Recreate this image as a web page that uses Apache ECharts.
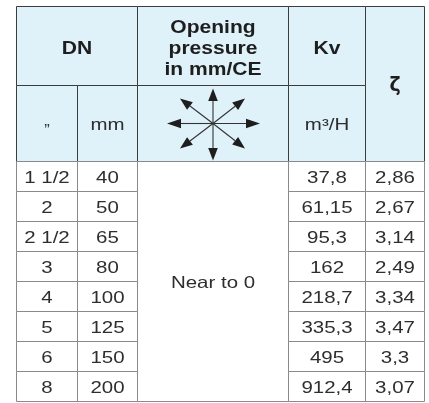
<!DOCTYPE html>
<html>
<head>
<meta charset="utf-8">
<script src="https://cdn.jsdelivr.net/npm/echarts@6/dist/echarts.min.js"></script>
<style>
html,body{margin:0;padding:0;background:#fff;}
#chart{width:429px;height:403px;}
</style>
</head>
<body>
<div id="chart"></div>
<script>
// ---- data ----
const headerTop = ['DN', 'Opening\npressure\nin mm/CE', 'Kv', 'ζ'];
const headerSub = ['”', 'mm', '', 'm³/H'];
const dnInch = ['1 1/2', '2', '2 1/2', '3', '4', '5', '6', '8'];
const dnMm = [40, 50, 65, 80, 100, 125, 150, 200];
const openingPressure = 'Near to 0';
const kv = [37.8, 61.15, 95.3, 162, 218.7, 335.3, 495, 912.4];
const zeta = [2.86, 2.67, 3.14, 2.49, 3.34, 3.47, 3.3, 3.07];

// ---- layout (table units = px) ----
const colEdges = [0, 61, 121, 272, 349, 408];
const headRows = [0, 79, 155];
const rowH = 30;
const tableH = headRows[2] + rowH * dnInch.length;

const fmt = v => String(v).replace('.', ',');

const cells = [];
function cell(c0, c1, r0, r1, text, kind) {
  cells.push({x0: colEdges[c0], x1: colEdges[c1], y0: r0, y1: r1, text, kind});
}
// header
cell(0, 2, headRows[0], headRows[1], headerTop[0], 'head');
cell(2, 3, headRows[0], headRows[1], headerTop[1], 'head');
cell(3, 4, headRows[0], headRows[1], headerTop[2], 'head');
cell(4, 5, headRows[0], headRows[2], headerTop[3], 'headz');
cell(0, 1, headRows[1], headRows[2], headerSub[0], 'inch');
cell(1, 2, headRows[1], headRows[2], headerSub[1], 'sub');
cell(2, 3, headRows[1], headRows[2], headerSub[2], 'arrows');
cell(3, 4, headRows[1], headRows[2], headerSub[3], 'sub');
// merged column
cell(2, 3, headRows[2], tableH, openingPressure, 'merged');
// body
dnInch.forEach((d, i) => {
  const y0 = headRows[2] + i * rowH, y1 = y0 + rowH;
  cell(0, 1, y0, y1, d, 'body');
  cell(1, 2, y0, y1, String(dnMm[i]), 'body');
  cell(3, 4, y0, y1, fmt(kv[i]), 'body');
  cell(4, 5, y0, y1, fmt(zeta[i]), 'body');
});

const HEAD_BG = '#dff2fa';
const INK = '#1e1e1e';
const BODY_INK = '#2e2e2e';

function arrowGroup(cx, cy) {
  const dirs = [[0, -35], [0, 37], [-46, 0], [47, 0], [-33, -25], [32, -25], [-33, 25], [32, 25]];
  const children = [];
  dirs.forEach(([dx, dy]) => {
    const len = Math.sqrt(dx * dx + dy * dy);
    const ux = dx / len, uy = dy / len;
    const hl = dx !== 0 && dy === 0 ? 14 : 12.5, hw = 4.8;
    const tx = cx + dx, ty = cy + dy;
    const bx = tx - ux * hl, by = ty - uy * hl;
    children.push({type: 'line', shape: {x1: cx, y1: cy, x2: bx, y2: by},
      style: {stroke: '#333', lineWidth: 1.1}});
    children.push({type: 'polygon', shape: {points: [[tx, ty], [bx - uy * hw, by + ux * hw], [bx + uy * hw, by - ux * hw]]},
      style: {fill: INK}});
  });
  return children;
}

function renderItem(params, api) {
  const c = cells[params.dataIndex];
  const p0 = api.coord([api.value(0), api.value(2)]);
  const p1 = api.coord([api.value(1), api.value(3)]);
  const x = p0[0], y = p0[1], w = p1[0] - p0[0], h = p1[1] - p0[1];
  const isHead = c.kind !== 'body' && c.kind !== 'merged';
  const children = [{
    type: 'rect', shape: {x, y, width: w, height: h},
    style: {fill: isHead ? HEAD_BG : '#fff', stroke: isHead ? '#3c3c3c' : '#8a8a8a', lineWidth: 1}
  }];
  const cx = x + w / 2, cy = y + h / 2;
  if (c.kind === 'arrows') {
    children.push(...arrowGroup(cx, cy));
  } else {
    let font = '16.5px "Liberation Sans", Arial, sans-serif';
    let dy = 1.5;
    let sx = 1.24;
    let fill = BODY_INK;
    if (c.kind === 'head') { font = 'bold 18px "Liberation Sans", Arial, sans-serif'; dy = 3; sx = 1.17; fill = INK; }
    if (c.kind === 'headz') { font = 'bold 19px "DejaVu Sans", sans-serif'; dy = 2; sx = 1; fill = INK; }
    if (c.kind === 'inch') { font = '15px "Liberation Sans", Arial, sans-serif'; dy = 6; sx = 1.1; }
    if (c.kind === 'sub') { dy = 2; }
    children.push({
      type: 'text',
      x: cx, y: cy + dy, scaleX: sx,
      style: {x: 0, y: 0, text: c.text, align: 'center', verticalAlign: 'middle',
        font, fill, lineHeight: 21}
    });
  }
  return {type: 'group', children};
}

const chart = echarts.init(document.getElementById('chart'), null, {renderer: 'canvas'});
chart.setOption({
  backgroundColor: '#fff',
  animation: false,
  grid: {left: 16.5, top: 6.5, width: colEdges[colEdges.length - 1], height: tableH},
  xAxis: {type: 'value', min: 0, max: colEdges[colEdges.length - 1], show: false},
  yAxis: {type: 'value', min: 0, max: tableH, inverse: true, show: false},
  series: [{
    type: 'custom',
    renderItem,
    encode: {x: [0, 1], y: [2, 3]},
    data: cells.map(c => [c.x0, c.x1, c.y0, c.y1]),
    silent: true
  }]
});
</script>
</body>
</html>
